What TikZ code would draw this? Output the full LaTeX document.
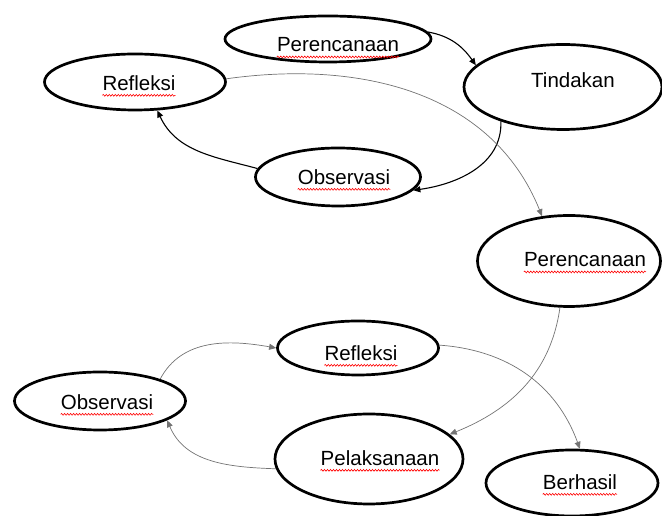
\documentclass[tikz,border=0pt]{standalone}
\usepackage{fontspec}
\setmainfont{Liberation Sans}
\usetikzlibrary{shapes.geometric,arrows.meta,decorations.pathmorphing}

\begin{document}
\begin{tikzpicture}[
    x=1pt, y=1pt,
    >={Triangle[length=7pt,width=6pt]},
    oval/.style={ellipse, draw, line width=2.7pt, inner sep=0pt},
    word/.style={inner sep=0pt, font=\fontsize{20.5}{24}\selectfont},
    mainarrow/.style={->, line width=1.1pt, black},
    sidearrow/.style={->, line width=0.7pt, black!55},
    squiggle/.style={red, line width=0.6pt, decorate,
        decoration={snake, amplitude=0.9pt, segment length=3pt}}
]
    \useasboundingbox (0,0) rectangle (662,516);

    % First cycle
    \node[oval, minimum width=206pt, minimum height=46pt] (p1) at (328,477) {};
    \node[word] (p1t) at (338,471) {Perencanaan};
    \node[oval, minimum width=198pt, minimum height=85pt] (td) at (563,429) {};
    \node[word] (tdt) at (573,436) {Tindakan};
    \node[oval, minimum width=181pt, minimum height=56pt] (r1) at (135,434) {};
    \node[word] (r1t) at (139,433) {Refleksi};
    \node[oval, minimum width=165pt, minimum height=58pt] (o1) at (338,339) {};
    \node[word] (o1t) at (344,339) {Observasi};

    % Second cycle
    \node[oval, minimum width=183pt, minimum height=91pt] (p2) at (569,255) {};
    \node[word] (p2t) at (585,256) {Perencanaan};
    \node[oval, minimum width=161pt, minimum height=54pt] (r2) at (358,168) {};
    \node[word] (r2t) at (361,163) {Refleksi};
    \node[oval, minimum width=171pt, minimum height=58pt] (o2) at (100,115) {};
    \node[word] (o2t) at (107,114) {Observasi};
    \node[oval, minimum width=188pt, minimum height=90pt] (pl) at (369,57) {};
    \node[word] (plt) at (380,58) {Pelaksanaan};
    \node[oval, minimum width=172pt, minimum height=66pt] (bh) at (572,33) {};
    \node[word] (bht) at (580,34) {Berhasil};

    % Spelling marks
    \draw[squiggle] ([yshift=-5pt]p1t.base west) -- ([yshift=-5pt]p1t.base east);
    \draw[squiggle] ([yshift=-5pt]r1t.base west) -- ([yshift=-5pt]r1t.base east);
    \draw[squiggle] ([yshift=-5pt]o1t.base west) -- ([yshift=-5pt]o1t.base east);
    \draw[squiggle] ([yshift=-5pt]p2t.base west) -- ([yshift=-5pt]p2t.base east);
    \draw[squiggle] ([yshift=-5pt]r2t.base west) -- ([yshift=-5pt]r2t.base east);
    \draw[squiggle] ([yshift=-5pt]o2t.base west) -- ([yshift=-5pt]o2t.base east);
    \draw[squiggle] ([yshift=-5pt]plt.base west) -- ([yshift=-5pt]plt.base east);
    \draw[squiggle] ([yshift=-5pt]bht.base west) -- ([yshift=-5pt]bht.base east);

    % Arrows of the first cycle
    \draw[mainarrow] (p1.4) to[out=-10, in=125] (td.166);
    \draw[mainarrow] (td.-151) to[out=-88, in=8] (o1.-10);
    \draw[mainarrow] (o1.174) to[out=165, in=-65] (r1.-52);
    \draw[sidearrow] (r1.2) to[out=8, in=112] (p2.121);

    % Arrows of the second cycle
    \draw[sidearrow] (p2.-101) to[out=-98, in=22] (pl.17);
    \draw[sidearrow] (pl.186) to[out=178, in=-67] (o2.-16);
    \draw[sidearrow] (o2.20) to[out=62, in=170] (r2.180);
    \draw[sidearrow] (r2.2) to[out=-4, in=110] (bh.77);
\end{tikzpicture}
\end{document}
